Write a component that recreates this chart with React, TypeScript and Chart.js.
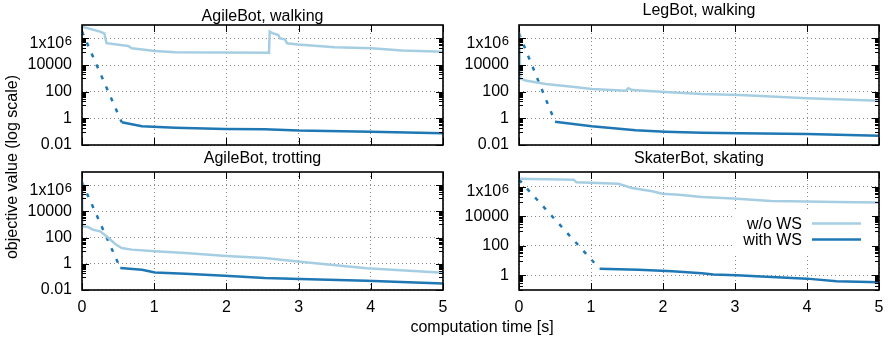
import React, { useEffect, useRef } from 'react';
import { Chart, registerables } from 'chart.js';

Chart.register(...registerables);

const FONT = "'Liberation Sans', Arial, Helvetica, sans-serif";
const LIGHT = '#a6cee3';
const DARK = '#1f78b4';
const W = 893;
const H = 341;

// ---------- AgileBot, walking ----------
const agileWalkTimeWo = [0, 0.25, 0.31, 0.34, 0.64, 0.69, 1.01, 1.29, 2.59, 2.6, 2.65, 2.72, 2.74, 2.81, 2.84, 2.99, 3.5, 4.01, 4.43, 5.0];
const agileWalkValWo = [7.4e6, 3.2e6, 2.3e6, 4.3e5, 2.7e5, 1.8e5, 1.1e5, 9e4, 8.3e4, 3.2e6, 2.3e6, 1.8e6, 1e6, 8.5e5, 4.3e5, 3.5e5, 2.1e5, 1.8e5, 1.2e5, 1e5];
const agileWalkTimeWs = [0.55, 0.83, 1.29, 1.98, 2.53, 3.0, 4.0, 5.0];
const agileWalkValWs = [0.5, 0.26, 0.2, 0.16, 0.15, 0.12, 0.1, 0.076];
const agileWalkTimeInit = [0, 0.55];
const agileWalkValInit = [3.2e6, 0.5];

// ---------- LegBot, walking ----------
const legWalkTimeWo = [0, 0.02, 0.09, 0.37, 0.74, 1.01, 1.48, 1.52, 1.57, 2.03, 2.54, 3.07, 4.0, 5.0];
const legWalkValWo = [4.2e6, 1000, 680, 370, 235, 160, 117, 178, 132, 93, 66, 56, 32, 21];
const legWalkTimeWs = [0.5, 1.01, 1.62, 2.03, 2.54, 3.07, 4.0, 5.0];
const legWalkValWs = [0.56, 0.26, 0.13, 0.1, 0.083, 0.076, 0.066, 0.05];
const legWalkTimeInit = [0, 0.5];
const legWalkValInit = [2.3e6, 0.56];

// ---------- AgileBot, trotting ----------
const agileTrotTimeWo = [0, 0.003, 0.08, 0.15, 0.25, 0.34, 0.46, 0.55, 0.69, 1.01, 1.43, 2.0, 2.53, 3.02, 3.94, 5.0];
const agileTrotValWo = [2e6, 720, 650, 400, 300, 126, 32, 16, 12, 8.9, 6.6, 4, 2.75, 1.45, 0.46, 0.21];
const agileTrotTimeWs = [0.53, 0.83, 1.01, 1.43, 1.98, 2.53, 3.02, 3.94, 5.0];
const agileTrotValWs = [0.48, 0.35, 0.22, 0.17, 0.12, 0.083, 0.069, 0.051, 0.032];
const agileTrotTimeInit = [0, 0.53];
const agileTrotValInit = [1.6e6, 0.48];

// ---------- SkaterBot, skating ----------
const skaterTimeWo = [0, 0.76, 0.8, 1.38, 1.57, 1.85, 1.99, 2.22, 2.54, 2.97, 3.5, 4.0, 4.4, 5.0];
const skaterValWo = [3.5e6, 3.0e6, 2.0e6, 1.6e6, 8.3e5, 4.9e5, 3.4e5, 2.9e5, 2.0e5, 1.6e5, 1.1e5, 1e5, 9.3e4, 8.5e4];
const skaterTimeWs = [1.12, 1.66, 2.13, 2.54, 2.7, 3.02, 4.0, 4.41, 5.0];
const skaterValWs = [2.75, 2.4, 1.86, 1.35, 1.12, 1.0, 0.59, 0.39, 0.33];
const skaterTimeInit = [0, 1.12];
const skaterValInit = [3e6, 2.75];

const timeTicks = [0, 1, 2, 3, 4, 5];
const yTickValues = [0.01, 1, 100, 10000, 1e6];
const yTickLabels = ['0.01', '1', '100', '10000', ''];
const legendLabels = ['w/o WS', 'with WS'];

const zip = (xs: number[], ys: number[]) => xs.map((x, i) => ({ x, y: ys[i] }));

type Panel = {
  title: string;
  titleBaseline: number;
  area: { left: number; right: number; top: number; bottom: number };
  yMin: number;
  yMax: number;
  showX: boolean;
  legend: boolean;
  shared: boolean;
  wo: [number[], number[]];
  ws: [number[], number[]];
  init: [number[], number[]];
};

const panels: Panel[] = [
  {
    title: 'AgileBot, walking', titleBaseline: 20.5,
    area: { left: 82, right: 443, top: 25, bottom: 145 }, yMin: 0.01, yMax: 1e7,
    showX: false, legend: false, shared: false,
    wo: [agileWalkTimeWo, agileWalkValWo], ws: [agileWalkTimeWs, agileWalkValWs], init: [agileWalkTimeInit, agileWalkValInit],
  },
  {
    title: 'LegBot, walking', titleBaseline: 15,
    area: { left: 519, right: 879, top: 25, bottom: 145 }, yMin: 0.01, yMax: 1e7,
    showX: false, legend: false, shared: false,
    wo: [legWalkTimeWo, legWalkValWo], ws: [legWalkTimeWs, legWalkValWs], init: [legWalkTimeInit, legWalkValInit],
  },
  {
    title: 'AgileBot, trotting', titleBaseline: 163,
    area: { left: 82, right: 443, top: 172, bottom: 290 }, yMin: 0.01, yMax: 1e7,
    showX: true, legend: false, shared: true,
    wo: [agileTrotTimeWo, agileTrotValWo], ws: [agileTrotTimeWs, agileTrotValWs], init: [agileTrotTimeInit, agileTrotValInit],
  },
  {
    title: 'SkaterBot, skating', titleBaseline: 163,
    area: { left: 519, right: 879, top: 172, bottom: 290 }, yMin: 0.1, yMax: 1e7,
    showX: true, legend: true, shared: false,
    wo: [skaterTimeWo, skaterValWo], ws: [skaterTimeWs, skaterValWs], init: [skaterTimeInit, skaterValInit],
  },
];

const decorPlugin = {
  id: 'decor',
  afterDatasetsDraw(chart: any, _args: any, opts: any) {
    const p: Panel = opts.panel;
    const ctx: CanvasRenderingContext2D = chart.ctx;
    const { left, right, top, bottom } = chart.chartArea;
    const ys = chart.scales.y;
    const xs = chart.scales.x;
    ctx.save();

    // legend (opaque box)
    if (p.legend) {
      ctx.fillStyle = '#fff';
      ctx.fillRect(733, 210, right - 733 - 1, 43);
      ctx.font = `16px ${FONT}`;
      ctx.fillStyle = '#000';
      ctx.textAlign = 'right';
      ctx.textBaseline = 'alphabetic';
      ctx.fillText(legendLabels[0], 802, 229);
      ctx.fillText(legendLabels[1], 802, 244.5);
      ctx.lineWidth = 2.5;
      ctx.strokeStyle = LIGHT;
      ctx.beginPath(); ctx.moveTo(812, 223.5); ctx.lineTo(861, 223.5); ctx.stroke();
      ctx.strokeStyle = DARK;
      ctx.beginPath(); ctx.moveTo(812, 239.5); ctx.lineTo(861, 239.5); ctx.stroke();
    }

    // ticks (inward)
    ctx.strokeStyle = '#000';
    ctx.lineWidth = 1;
    ctx.beginPath();
    for (const v of yTickValues) {
      if (v < p.yMin || v > p.yMax) continue;
      const y = Math.round(ys.getPixelForValue(v)) + 0.5;
      ctx.moveTo(left, y); ctx.lineTo(left + 7, y);
      ctx.moveTo(right, y); ctx.lineTo(right - 7, y);
      for (let m = 1; m <= 9; m++) {
        const mv = (m * v) / 10;
        if (mv < p.yMin || mv > p.yMax) continue;
        const my = Math.round(ys.getPixelForValue(mv)) + 0.5;
        ctx.moveTo(left, my); ctx.lineTo(left + 4, my);
        ctx.moveTo(right, my); ctx.lineTo(right - 4, my);
      }
    }
    for (const t of timeTicks) {
      const x = Math.round(xs.getPixelForValue(t)) + 0.5;
      ctx.moveTo(x, top); ctx.lineTo(x, top + 7);
      ctx.moveTo(x, bottom); ctx.lineTo(x, bottom - 7);
    }
    ctx.stroke();

    // frame
    ctx.lineWidth = 1.6;
    ctx.strokeRect(left, top, right - left, bottom - top);

    // 1x10^6 label
    const y6 = ys.getPixelForValue(1e6);
    ctx.fillStyle = '#000';
    ctx.textBaseline = 'alphabetic';
    ctx.font = `13px ${FONT}`;
    ctx.textAlign = 'right';
    ctx.fillText('6', left - 10, y6 + 6.5);
    const w6 = ctx.measureText('6').width;
    ctx.font = `16px ${FONT}`;
    ctx.fillText('1x10', left - 10 - w6 - 0.5, y6 + 9.5);

    // title
    ctx.textAlign = 'center';
    ctx.fillText(p.title, (left + right) / 2, p.titleBaseline);

    // shared axis titles
    if (p.shared) {
      ctx.textAlign = 'center';
      ctx.textBaseline = 'middle';
      ctx.fillText('computation time [s]', 482, 328);
      ctx.save();
      ctx.translate(13, 167);
      ctx.rotate(-Math.PI / 2);
      ctx.fillText('objective value (log scale)', 0, 0);
      ctx.restore();
    }
    ctx.restore();
  },
};

function makeConfig(p: Panel): any {
  const yW = 60;
  const xH = 30;
  return {
    type: 'line',
    data: {
      datasets: [
        { label: legendLabels[0], data: zip(p.wo[0], p.wo[1]), borderColor: LIGHT, borderWidth: 2.5, pointRadius: 0, fill: false, tension: 0 },
        { label: legendLabels[1], data: zip(p.ws[0], p.ws[1]), borderColor: DARK, borderWidth: 2.5, pointRadius: 0, fill: false, tension: 0 },
        { label: 'init', data: zip(p.init[0], p.init[1]), borderColor: DARK, borderWidth: 2.5, borderDash: [4, 8], pointRadius: 0, fill: false, tension: 0 },
      ],
    },
    options: {
      responsive: false,
      animation: false,
      devicePixelRatio: 1,
      events: [],
      layout: {
        padding: { left: p.area.left - yW, right: W - p.area.right, top: p.area.top, bottom: H - p.area.bottom - xH },
      },
      scales: {
        x: {
          type: 'linear', min: 0, max: 5,
          afterFit: (s: any) => { s.height = xH; },
          afterBuildTicks: (s: any) => { s.ticks = timeTicks.map((v) => ({ value: v })); },
          ticks: { display: p.showX, font: { family: FONT, size: 16 }, color: '#000', padding: 8, maxRotation: 0, autoSkip: false },
          grid: { color: '#8a8a8a', lineWidth: 1, drawTicks: false },
          border: { display: false, dash: [1, 3] },
        },
        y: {
          type: 'logarithmic', min: p.yMin, max: p.yMax,
          afterFit: (s: any) => { s.width = yW; },
          afterBuildTicks: (s: any) => { s.ticks = yTickValues.filter((v) => v >= p.yMin).map((v) => ({ value: v })); },
          ticks: {
            font: { family: FONT, size: 16 }, color: '#000', padding: 10, autoSkip: false,
            callback: (v: number) => { const i = yTickValues.findIndex((t) => Math.abs(t - v) / t < 1e-6); return i >= 0 ? yTickLabels[i] : ''; },
          },
          grid: { color: '#8a8a8a', lineWidth: 1, drawTicks: false },
          border: { display: false, dash: [1, 3] },
        },
      },
      plugins: { legend: { display: false }, tooltip: { enabled: false }, title: { display: false }, decor: { panel: p } },
    },
    plugins: [decorPlugin],
  };
}

export default function App() {
  const refs = [useRef<HTMLCanvasElement>(null), useRef<HTMLCanvasElement>(null), useRef<HTMLCanvasElement>(null), useRef<HTMLCanvasElement>(null)];
  useEffect(() => {
    const charts = panels.map((p, i) => new Chart(refs[i].current as HTMLCanvasElement, makeConfig(p)));
    return () => charts.forEach((c) => c.destroy());
  }, []);
  return (
    <div style={{ position: 'fixed', left: 0, top: 0, width: W, height: H, background: '#fff' }}>
      {panels.map((p, i) => (
        <canvas key={p.title} ref={refs[i]} width={W} height={H} style={{ position: 'absolute', left: 0, top: 0, width: W, height: H }} />
      ))}
    </div>
  );
}
